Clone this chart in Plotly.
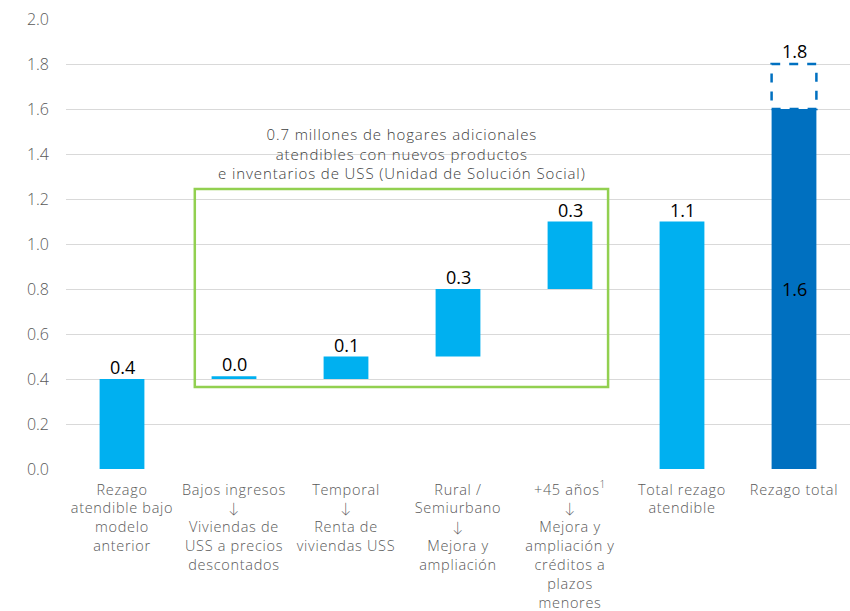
import plotly.graph_objects as go

# Waterfall of housing backlog (millions of households)
ARROW = '<span style="font-family:Lato">↓</span>'
categories = [
    "Rezago<br>atendible bajo<br>modelo<br>anterior",
    f"Bajos ingresos<br>{ARROW}<br>Viviendas de<br>USS a precios<br>descontados",
    f"Temporal<br>{ARROW}<br>Renta de<br>viviendas USS",
    f"Rural /<br>Semiurbano<br>{ARROW}<br>Mejora y<br>ampliación",
    f"+45 años<sup>1</sup><br>{ARROW}<br>Mejora y<br>ampliación y<br>créditos a<br>plazos<br>menores",
    "Total rezago<br>atendible",
    "Rezago total",
]
bar_base = [0.0, 0.4, 0.4, 0.5, 0.8, 0.0, 0.0]
bar_value = [0.4, 0.012, 0.1, 0.3, 0.3, 1.1, 1.6]
value_labels = ["0.4", "0.0", "0.1", "0.3", "0.3", "1.1"]
total_value = 1.8
total_label = "1.8"
inner_label = "1.6"
box_note = ("0.7 millones de hogares adicionales<br>atendibles con nuevos productos<br>"
            "e inventarios de USS (Unidad de Solución Social)")
y_ticks = [0.0, 0.2, 0.4, 0.6, 0.8, 1.0, 1.2, 1.4, 1.6, 1.8, 2.0]

LIGHT = "#00B0F0"
DARK = "#0070C0"
GREEN = "#92D050"
GREY = "#595959"
FONT = "Open Sans"
LIGHT_W = 300
BW = 0.4


def spaced(text, px):
    """Wrap each line of a label in a span with extra letter spacing."""
    return "<br>".join(f'<span style="letter-spacing:{px}px">{part}</span>'
                       for part in text.split("<br>"))


colors = [LIGHT] * 6 + [DARK]
xs = list(range(len(categories)))

fig = go.Figure()
fig.add_trace(go.Bar(
    x=xs, y=bar_value, base=bar_base, width=BW,
    marker=dict(color=colors, line=dict(width=0)),
    hoverinfo="skip",
))

label_font = dict(family=FONT, size=18, color="#000000", weight=400)

# Value labels above each bar
for i, lab in enumerate(value_labels):
    top = bar_base[i] + bar_value[i]
    fig.add_annotation(x=i, y=top, text=lab, showarrow=False, yanchor="bottom",
                       yshift=-2, font=label_font)

# Dashed outline for the remaining backlog on the last bar
last = len(categories) - 1
fig.add_shape(type="rect", xref="x", yref="y",
              x0=last - BW / 2, x1=last + BW / 2,
              y0=bar_value[last], y1=total_value,
              line=dict(color=DARK, width=2.5, dash="dash"), fillcolor="white")
fig.add_annotation(x=last, y=total_value, text=total_label, showarrow=False,
                   yanchor="bottom", yshift=-1, font=label_font)
fig.add_annotation(x=last, y=bar_value[last] / 2, text=inner_label, showarrow=False,
                   font=label_font)

# Green frame grouping the new products
box_top = 1.244
fig.add_shape(type="rect", xref="x", yref="y", x0=0.65, x1=4.34, y0=0.364, y1=box_top,
              line=dict(color=GREEN, width=2.5), fillcolor="rgba(0,0,0,0)", layer="above")
fig.add_annotation(x=2.5, y=box_top, text=spaced(box_note, 0.9), showarrow=False,
                   yanchor="bottom", yshift=4,
                   font=dict(family=FONT, size=15, color="#404040", weight=LIGHT_W))

fig.update_layout(
    width=850, height=611,
    margin=dict(l=66, r=0, t=19, b=142),
    plot_bgcolor="white", paper_bgcolor="white",
    showlegend=False, bargap=0.6,
    font=dict(family=FONT, size=15, color=GREY, weight=LIGHT_W),
    xaxis=dict(tickmode="array", tickvals=xs, ticktext=[spaced(c, 0.7) for c in categories],
               range=[-0.5, len(categories) - 0.5], showgrid=False, zeroline=False,
               showline=False, ticks="", ticklabelstandoff=10,
               tickfont=dict(family=FONT, size=14.5, color=GREY, weight=LIGHT_W)),
    yaxis=dict(range=[0, 2.0], tickvals=y_ticks, ticktext=[f"{v:.1f}" for v in y_ticks],
               showgrid=True, gridcolor="#D9D9D9", gridwidth=1, zeroline=False,
               showline=False, ticks="", ticklabelstandoff=16,
               tickfont=dict(family=FONT, size=16, color=GREY, weight=LIGHT_W)),
)

fig.write_html("out.html")
